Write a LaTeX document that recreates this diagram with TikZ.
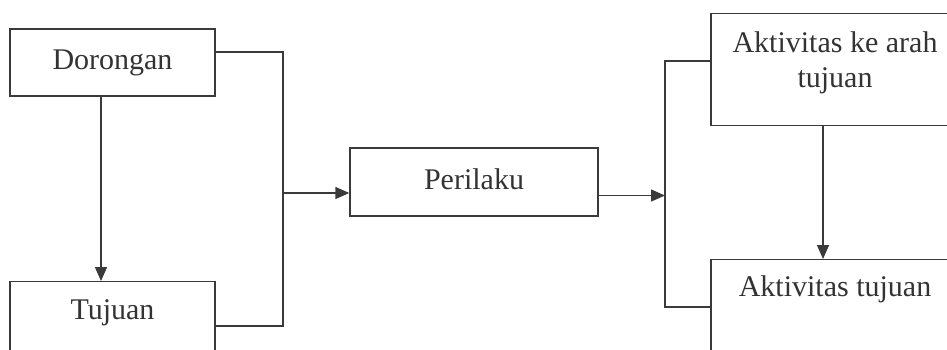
\documentclass[tikz,border=0pt]{standalone}
\usepackage{fontspec}
\setmainfont{Liberation Serif}
\usetikzlibrary{arrows.meta}
\definecolor{ink}{HTML}{3A3A3A}
\definecolor{txt}{HTML}{333333}
\begin{document}
\begin{tikzpicture}[x=1pt,y=-1pt,
  box/.style={draw=ink, line width=1.4pt, rectangle, inner sep=0pt, text=txt,
    font=\fontsize{30}{35}\selectfont},
  midbox/.style={box, text height=20pt, text depth=6pt},
  conn/.style={draw=ink, line width=1.4pt},
  arr/.style={conn, -{Triangle[length=14pt,width=12pt]}}]
\clip (0,0) rectangle (947,349);
\fill[white] (0,0) rectangle (947,349);
% nodes
\node[midbox, minimum width=205pt, minimum height=67pt] (dor) at (112.5,62.5) {Dorongan};
\node[box, anchor=north, minimum width=205pt, text height=38pt, text depth=80pt] (tuj) at (112.5,281) {Tujuan};
\node[midbox, minimum width=248pt, minimum height=68pt] (per) at (474,182) {Perilaku};
\node[box, anchor=north, minimum width=248pt, text height=39pt, text depth=73pt] (akA) at (835,13)
  {\begin{tabular}[t]{@{}c@{}}Aktivitas ke arah\\tujuan\end{tabular}};
\node[box, anchor=north, minimum width=248pt, text height=37pt, text depth=80pt] (akB) at (835,259) {Aktivitas tujuan};
% helper coordinates
\coordinate (lx) at (101,0);
\coordinate (rx) at (823,0);
\coordinate (jl) at (283,193);
\coordinate (jr) at (665,195.5);
\coordinate (d1) at (0,52);
\coordinate (t1) at (0,326);
\coordinate (a1) at (0,61);
\coordinate (b1) at (0,307);
% connectors
\draw[arr] (dor.south -| lx) -- (tuj.north -| lx);
\draw[conn] (dor.east |- d1) -| (jl) |- (tuj.east |- t1);
\draw[arr] (jl) -- (per.west |- jl);
\draw[arr] (per.east |- jr) -- (jr);
\draw[conn] (akA.west |- a1) -| (jr) |- (akB.west |- b1);
\draw[arr] (akA.south -| rx) -- (akB.north -| rx);
\end{tikzpicture}
\end{document}
